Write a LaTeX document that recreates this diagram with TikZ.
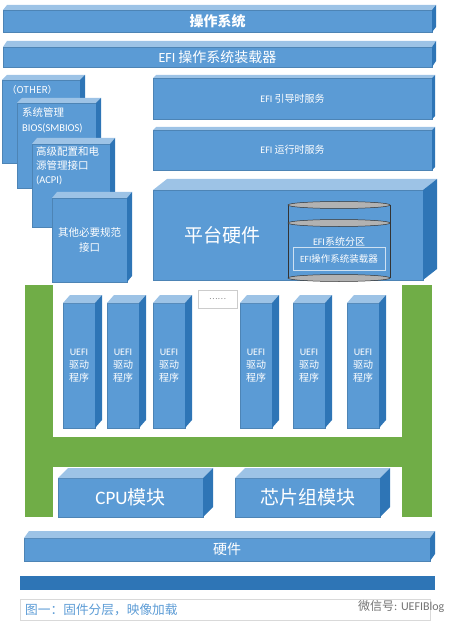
\documentclass[tikz,border=0pt]{standalone}
\usepackage{fontspec}
\setmainfont{Carlito}
\newfontfamily\cjk{Noto Sans CJK SC}
\usetikzlibrary{positioning,calc}
\definecolor{efront}{HTML}{5B9BD5}
\definecolor{etop}{HTML}{9DC3E6}
\definecolor{eside}{HTML}{2E75B6}
\definecolor{egreen}{HTML}{70AD47}
\definecolor{ebar}{HTML}{2E75B6}
\definecolor{capblue}{HTML}{5B9BD5}

\begin{document}
\begin{tikzpicture}[x=1pt, y=-1pt,
  slab/.style={fill=efront, draw=efront!85!black, line width=0.3pt,
    inner sep=0pt, outer sep=0pt, anchor=north west, text=white, align=center},
  topface/.style={fill=etop},
  sideface/.style={fill=eside},
  drv/.style={slab, minimum width=32, minimum height=125,
    font=\fontsize{10}{13}\selectfont},
  note/.style={text=white, inner sep=0pt, align=left, anchor=north west},
  cyl/.style={draw=black!80, line width=0.5pt},
  cylcap/.style={fill=black!30, draw=black!80, line width=0.5pt}
]
\useasboundingbox (0,0) rectangle (462,628);

% top and side faces of a front box: name, dx, dy
\def\boxfaces#1#2#3{%
  \fill[topface] (#1.north west) -- ([shift={(#2,-#3)}]#1.north west)
    -- ([shift={(#2,-#3)}]#1.north east) -- (#1.north east) -- cycle;
  \fill[sideface] (#1.north east) -- ([shift={(#2,-#3)}]#1.north east)
    -- ([shift={(#2,-#3)}]#1.south east) -- (#1.south east) -- cycle;
}

%--- OS layers ---
\node[slab, minimum width=429, minimum height=22,
  font=\cjk\bfseries\fontsize{14}{16}\selectfont] (os) at (3,10) {操作系统};
\boxfaces{os}{4}{5}
\node[slab, minimum width=429, minimum height=20,
  font=\fontsize{14}{16}\selectfont] (loader) at (3,47) {EFI {\cjk 操作系统装载器}};
\boxfaces{loader}{4}{6}

%--- Stacked interface tables ---
\node[slab, minimum width=78, minimum height=83] (other) at (2,80) {};
\node[note, font=\cjk\fontsize{9.5}{12}\selectfont] (otherT)
  at ([shift={(5,5)}]other.north west) {（OTHER）};
\boxfaces{other}{5}{5}

\node[slab, minimum width=79, minimum height=85] (smbios) at (17,103) {};
\node[note, font=\fontsize{10.5}{15}\selectfont] (smbiosT)
  at ([shift={(5,4)}]smbios.north west) {{\cjk 系统管理}\\BIOS(SMBIOS)};
\boxfaces{smbios}{5}{5}

\node[slab, minimum width=78, minimum height=83] (acpi) at (32,144) {};
\node[note, font=\fontsize{10.5}{14}\selectfont] (acpiT)
  at ([shift={(4,2)}]acpi.north west) {{\cjk 高级配置和电}\\{\cjk 源管理接口}\\(ACPI)};
\boxfaces{acpi}{5}{6}

\node[slab, minimum width=75, minimum height=84,
  font=\cjk\fontsize{10.5}{15}\selectfont] (misc) at (52,198) {其他必要规范\\接口};
\boxfaces{misc}{5}{6}

%--- EFI services ---
\node[slab, minimum width=279, minimum height=41,
  font=\fontsize{10}{12}\selectfont] (boot) at (153,78) {EFI {\cjk 引导时服务}};
\boxfaces{boot}{3}{3}
\node[slab, minimum width=279, minimum height=40,
  font=\fontsize{10}{12}\selectfont] (runtime) at (153,130) {EFI {\cjk 运行时服务}};
\boxfaces{runtime}{3}{3}

%--- Platform hardware with system partition ---
\node[slab, minimum width=270, minimum height=90] (platform) at (153,190) {};
\boxfaces{platform}{14}{11}
\node[text=white, font=\cjk\fontsize{19}{22}\selectfont] (platformT) at (222,235) {平台硬件};

\coordinate (cylT) at (339,205);
\coordinate (cylM) at (339,223);
\coordinate (cylB) at (339,278);
\filldraw[cylcap] (cylB) ellipse [x radius=51, y radius=3.5];
\draw[cyl] ([xshift=-51]cylT) -- ([xshift=-51]cylB);
\draw[cyl] ([xshift=51]cylT) -- ([xshift=51]cylB);
\filldraw[cylcap] (cylM) ellipse [x radius=51, y radius=3.5];
\filldraw[cylcap] (cylT) ellipse [x radius=51, y radius=3.5];
\node[text=white, font=\fontsize{10}{12}\selectfont] (espT) at (339,242) {EFI{\cjk 系统分区}};
\node[draw=etop!50!white, line width=0.6pt, minimum width=92, minimum height=23,
  inner sep=0pt, text=white, font=\fontsize{9.5}{11}\selectfont] (espLdr)
  at (339,258.5) {EFI{\cjk 操作系统装载器}};

%--- Driver frame ---
\fill[egreen] (25,285) rectangle (53,517);
\fill[egreen] (402,285) rectangle (432,517);
\fill[egreen] (53,437) rectangle (402,467);

\foreach \n/\x in {1/63,2/107,3/153,4/240,5/293,6/347}{
  \node[drv] (drv\n) at (\x,303) {UEFI\\{\cjk 驱动}\\{\cjk 程序}};
  \boxfaces{drv\n}{7}{8}
}
\node[draw=black!20, fill=white, minimum width=39, minimum height=18, inner sep=0pt,
  text=black!50, font=\cjk\fontsize{8}{8}\selectfont] (dots) at (217.5,299) {……};

%--- Modules ---
\node[slab, minimum width=145, minimum height=39,
  font=\fontsize{19}{22}\selectfont] (cpu) at (58,478) {CPU{\cjk 模块}};
\boxfaces{cpu}{10}{10}
\node[slab, minimum width=145, minimum height=39,
  font=\cjk\fontsize{19}{22}\selectfont] (chipset) at (235,478) {芯片组模块};
\boxfaces{chipset}{10}{10}

%--- Hardware ---
\node[slab, minimum width=406, minimum height=23,
  font=\cjk\fontsize{14}{16}\selectfont] (hw) at (24,538) {硬件};
\boxfaces{hw}{5}{7}
\node[fill=ebar, minimum width=415, minimum height=14, inner sep=0pt, outer sep=0pt,
  anchor=north west] (base) at (20,576) {};

%--- Caption ---
\node[draw=black!15, minimum width=410, minimum height=21, inner sep=0pt,
  anchor=north west] (capbox) at (20,599) {};
\node[anchor=west, inner sep=0pt, text=capblue, font=\cjk\fontsize{12.7}{14}\selectfont]
  (capT) at (25,609.5) {图一：固件分层，映像加载};
\node[anchor=west, inner sep=0pt, text=black!55, font=\fontsize{12}{14}\selectfont]
  (wm) at (358,606) {{\cjk 微信号}: UEFIBlog};

\end{tikzpicture}
\end{document}
